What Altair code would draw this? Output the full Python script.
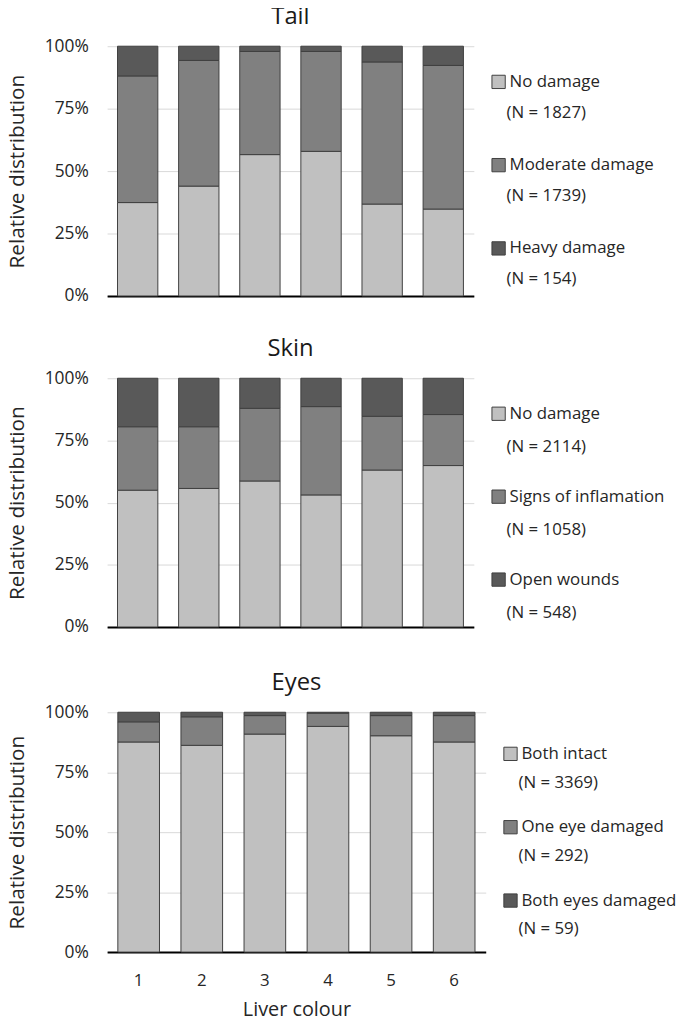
import altair as alt
import pandas as pd

FONT = "Open Sans"
COLORS = ["#c0c0c0", "#808080", "#595959"]

colours = ["1", "2", "3", "4", "5", "6"]

# Tail (percent per liver colour)
tail_no = [37.4, 44.0, 56.6, 57.9, 36.8, 34.8]
tail_mod = [50.7, 50.3, 41.3, 40.0, 56.9, 57.5]
tail_heavy = [11.9, 5.7, 2.1, 2.1, 6.3, 7.7]
tail_labels = ["No damage", "Moderate damage", "Heavy damage"]
tail_n = [1827, 1739, 154]

# Skin
skin_no = [55.0, 55.7, 58.7, 53.1, 63.1, 64.9]
skin_infl = [25.5, 24.8, 29.2, 35.5, 21.6, 20.5]
skin_open = [19.5, 19.5, 12.1, 11.4, 15.3, 14.6]
skin_labels = ["No damage", "Signs of inflamation", "Open wounds"]
skin_n = [2114, 1058, 548]

# Eyes
eyes_intact = [87.6, 86.2, 90.9, 94.1, 90.2, 87.6]
eyes_one = [8.4, 11.9, 7.7, 5.5, 8.4, 11.0]
eyes_both = [4.0, 1.9, 1.4, 0.4, 1.4, 1.4]
eyes_labels = ["Both intact", "One eye damaged", "Both eyes damaged"]
eyes_n = [3369, 292, 59]

color_scale = alt.Scale(domain=[0, 1, 2], range=COLORS)
TXT = "#262626"
TITLE_SIZE = 24
TITLE_OFF = 8
LEG_SIZE = 17


def panel(title, series, labels, ns, width, height, pad, name_dy, n_dy, show_x):
    rows = []
    for lvl, vals in enumerate(series):
        for c, v in zip(colours, vals):
            rows.append({"colour": c, "level": lvl, "category": labels[lvl], "pct": v})
    df = pd.DataFrame(rows)

    if show_x:
        x_axis = alt.Axis(title="Liver colour", labels=True, ticks=False,
                          domainColor="black", domainWidth=2, labelAngle=0,
                          labelFontSize=17, labelPadding=21, labelColor=TXT,
                          titleFontSize=20, titleFontWeight="normal", titleColor=TXT,
                          titlePadding=11, grid=False)
    else:
        x_axis = alt.Axis(title=None, labels=False, ticks=False,
                          domainColor="black", domainWidth=2, grid=False)

    y_axis = alt.Axis(values=[0, 25, 50, 75, 100], labelExpr="datum.value + '%'",
                      title="Relative distribution", domain=False, ticks=False,
                      gridColor="#d9d9d9", gridWidth=1, labelPadding=19,
                      titlePadding=17, labelFontSize=17.5, labelColor=TXT,
                      titleFontSize=21, titleFontWeight="normal", titleColor=TXT)

    bars = alt.Chart(df).mark_bar(stroke="#404040", strokeWidth=1).encode(
        x=alt.X("colour:N", sort=colours,
                scale=alt.Scale(paddingInner=0.34, paddingOuter=0.17), axis=x_axis),
        y=alt.Y("pct:Q", stack="zero", scale=alt.Scale(domain=[0, 100]), axis=y_axis),
        color=alt.Color("level:O", scale=color_scale, legend=None),
        order=alt.Order("level:Q"),
    ).properties(
        width=width, height=height,
        title=alt.TitleParams(title, fontSize=TITLE_SIZE, fontWeight="normal", color="#1a1a1a",
                              offset=TITLE_OFF, anchor="middle"),
    )

    leg_df = pd.DataFrame({"level": [0, 1, 2], "name": labels,
                           "n": [f"(N = {n})" for n in ns]})
    base = alt.Chart(leg_df).encode(
        y=alt.Y("level:O", axis=None, scale=alt.Scale(padding=pad)))
    sw = base.mark_square(size=180, stroke="#404040", strokeWidth=1, opacity=1).encode(
        x=alt.value(7), yOffset=alt.value(name_dy),
        color=alt.Color("level:O", scale=color_scale, legend=None))
    t1 = base.mark_text(align="left", baseline="middle", fontSize=LEG_SIZE, font=FONT,
                        dy=name_dy, color=TXT).encode(x=alt.value(18), text="name:N")
    t2 = base.mark_text(align="left", baseline="middle", fontSize=LEG_SIZE, font=FONT,
                        dy=n_dy, color=TXT).encode(x=alt.value(15), text="n:N")
    legend = alt.layer(sw, t1, t2).properties(
        width=150, height=height,
        title=alt.TitleParams(" ", fontSize=TITLE_SIZE, offset=TITLE_OFF),
    )
    return alt.hconcat(bars, legend, spacing=16)


row1 = panel("Tail", [tail_no, tail_mod, tail_heavy], tail_labels, tail_n,
             370, 252, 0.5, -6, 25, False)
row2 = panel("Skin", [skin_no, skin_infl, skin_open], skin_labels, skin_n,
             370, 251, 0.5, -6, 28, False)
row3 = panel("Eyes", [eyes_intact, eyes_one, eyes_both], eyes_labels, eyes_n,
             382, 242, 0.635, -5, 24, True)

top = alt.vconcat(row1, row2, spacing=33)
chart = alt.vconcat(top, row3, spacing=36).properties(
    padding={"top": -7, "left": -2, "right": 0, "bottom": 0}
).configure(font=FONT).configure_view(strokeWidth=0)

chart.save("out.html", embed_options={"renderer": "svg", "actions": False})
